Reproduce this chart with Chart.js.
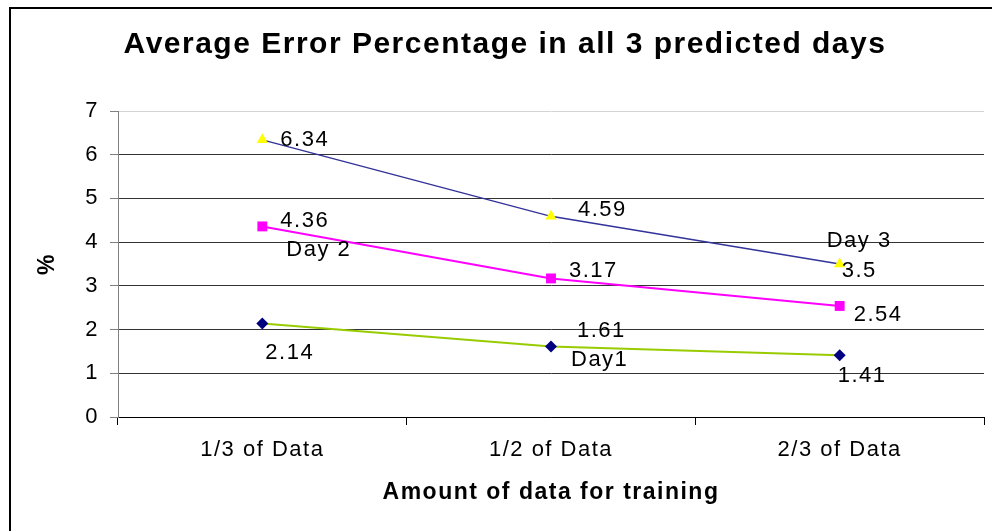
<!DOCTYPE html>
<html>
<head>
<meta charset="utf-8">
<script src="https://cdn.jsdelivr.net/npm/chart.js@4.4.1/dist/chart.umd.min.js"></script>
<style>
html, body { margin: 0; padding: 0; background: #fff; overflow: hidden; }
#frame { position: absolute; left: 9px; top: 7px; width: 1100px; height: 700px; border-left: 2px solid #000; border-top: 2px solid #000; }
#errChart { position: absolute; left: 0; top: 0; }
</style>
</head>
<body>
<div id="frame"></div>
<canvas id="errChart" width="992" height="531"></canvas>
<script>
var categories = ['1/3 of Data', '1/2 of Data', '2/3 of Data'];
var day1 = [2.14, 1.61, 1.41];
var day2 = [4.36, 3.17, 2.54];
var day3 = [6.34, 4.59, 3.5];
var seriesNames = ['Day1', 'Day 2', 'Day 3'];
var yTicks = [0, 1, 2, 3, 4, 5, 6, 7];

// where each value label sits relative to its point (dx, dy), per series
var valueOffsets = [
    [[3, 29], [26, -16], [-2, 21]],
    [[18, -5], [18, -7], [14, 9]],
    [[18, 0], [27, -6], [2, 7]]
];
// series name label: which point it hangs off and the offset
var nameOffsets = [
    { i: 1, dx: 20, dy: 13 },
    { i: 0, dx: 24, dy: 24 },
    { i: 2, dx: -13, dy: -23 }
];

var fam = '"Liberation Sans", Arial, sans-serif';
Chart.defaults.font.family = fam;
Chart.defaults.color = '#000';

// text in the original is a little wide, so add some letter spacing
var spacing = {
    id: 'spacing',
    beforeDraw: function(chart) {
        chart.ctx.letterSpacing = '1.5px';
    }
};

var pointLabels = {
    id: 'pointLabels',
    afterDatasetsDraw: function(chart) {
        var ctx = chart.ctx;
        ctx.save();
        ctx.letterSpacing = '1.5px';
        ctx.font = '22px ' + fam;
        ctx.fillStyle = '#000';
        ctx.textAlign = 'left';
        ctx.textBaseline = 'middle';
        chart.data.datasets.forEach(function(ds, d) {
            var meta = chart.getDatasetMeta(d);
            meta.data.forEach(function(el, j) {
                var off = valueOffsets[d][j];
                ctx.fillText(String(ds.data[j]), el.x + off[0], el.y + off[1]);
            });
            var n = nameOffsets[d];
            var p = meta.data[n.i];
            ctx.fillText(ds.label, p.x + n.dx, p.y + n.dy);
        });
        ctx.restore();
    }
};

new Chart('errChart', {
    type: 'line',
    data: {
        labels: categories,
        datasets: [{
            label: seriesNames[0],
            data: day1,
            borderColor: '#99CC00',
            borderWidth: 2,
            pointStyle: 'rectRot',
            pointRadius: 6,
            pointBackgroundColor: '#000080',
            pointBorderColor: '#000080',
            pointBorderWidth: 0
        }, {
            label: seriesNames[1],
            data: day2,
            borderColor: '#FF00FF',
            borderWidth: 2,
            pointStyle: 'rect',
            pointRadius: 7,
            pointBackgroundColor: '#FF00FF',
            pointBorderColor: '#FF00FF',
            pointBorderWidth: 0
        }, {
            label: seriesNames[2],
            data: day3,
            borderColor: '#333399',
            borderWidth: 1.5,
            pointStyle: 'triangle',
            pointRadius: 6.5,
            pointBackgroundColor: '#FFFF00',
            pointBorderColor: '#FFFF00',
            pointBorderWidth: 0
        }]
    },
    options: {
        responsive: false,
        animation: false,
        tension: 0,
        // left padding pushes the centred title right a bit, y axis width makes up for it
        layout: { padding: { left: 26, right: 8, top: 0, bottom: 0 } },
        plugins: {
            legend: { display: false },
            tooltip: { enabled: false },
            title: {
                display: true,
                text: 'Average Error Percentage in all 3 predicted days',
                font: { size: 30, weight: 'bold' },
                color: '#000',
                padding: { top: 27, bottom: 48 }
            }
        },
        scales: {
            x: {
                offset: true,
                grid: { offset: true, drawOnChartArea: false, tickLength: 8, color: '#000' },
                border: { color: '#000', width: 1 },
                ticks: { font: { size: 22 }, padding: 12, maxRotation: 0 },
                title: {
                    display: true,
                    text: 'Amount of data for training',
                    font: { size: 23, weight: 'bold' },
                    padding: { top: 0, bottom: 25 }
                },
                afterFit: function(scale) { scale.height = 114; }
            },
            y: {
                min: 0,
                max: 7,
                afterBuildTicks: function(scale) {
                    scale.ticks = yTicks.map(function(v) { return { value: v }; });
                },
                grid: {
                    tickLength: 8,
                    tickColor: '#808080',
                    color: function(c) { return c.tick && c.tick.value === 7 ? '#d4d4d4' : '#333'; }
                },
                border: { color: '#808080', width: 1 },
                ticks: { font: { size: 22 }, padding: 11 },
                title: {
                    display: true,
                    text: '%',
                    font: { size: 23, weight: 'bold' },
                    padding: { top: 8, bottom: 0 }
                },
                afterFit: function(scale) { scale.width = 92; }
            }
        }
    },
    plugins: [spacing, pointLabels]
});
</script>
</body>
</html>
